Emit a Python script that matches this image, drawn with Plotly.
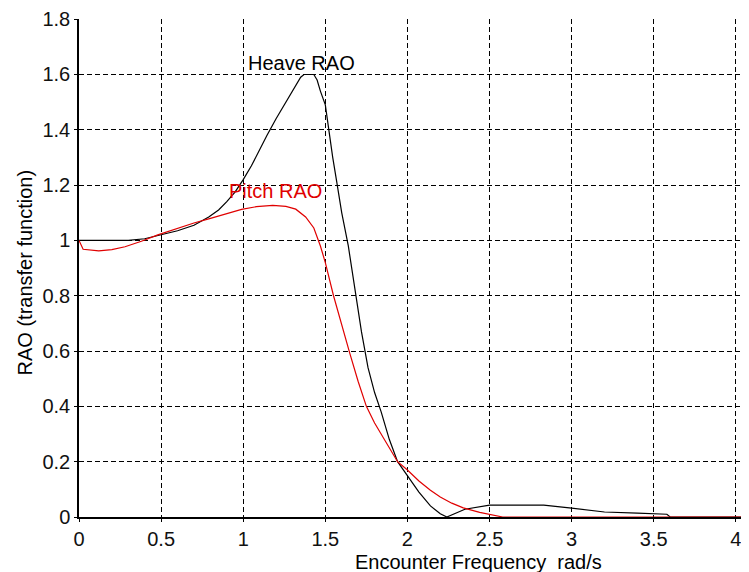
import plotly.graph_objects as go

# Encounter frequency (rad/s) and RAO values
heave_x = [0, 0.1, 0.2, 0.3, 0.4, 0.5, 0.6, 0.7, 0.79, 0.85, 0.9, 0.95, 1.0, 1.05,
           1.1, 1.145, 1.2, 1.27, 1.32, 1.35, 1.37, 1.43, 1.45, 1.47, 1.5, 1.52,
           1.545, 1.57, 1.6, 1.64, 1.68, 1.72, 1.76, 1.8, 1.84, 1.89, 1.94, 2.0,
           2.07, 2.14, 2.2, 2.24, 2.35, 2.5, 2.83, 3.0, 3.2, 3.4, 3.58, 3.6, 4.08]
heave_y = [1.0, 1.0, 1.0, 1.0, 1.006, 1.02, 1.035, 1.055, 1.085, 1.11, 1.14, 1.175,
           1.22, 1.27, 1.33, 1.38, 1.44, 1.51, 1.565, 1.59, 1.60, 1.60, 1.58, 1.54,
           1.49, 1.40, 1.30, 1.21, 1.10, 0.98, 0.82, 0.67, 0.54, 0.45, 0.38, 0.28,
           0.2, 0.15, 0.09, 0.04, 0.012, 0.0, 0.028, 0.043, 0.043, 0.032, 0.018,
           0.014, 0.01, 0.0, 0.0]

pitch_x = [0, 0.025, 0.12, 0.2, 0.28, 0.38, 0.48, 0.6, 0.7, 0.79, 0.9, 0.99, 1.08,
           1.18, 1.26, 1.32, 1.38, 1.43, 1.47, 1.5, 1.55, 1.6, 1.65, 1.7, 1.75, 1.8,
           1.85, 1.9, 1.94, 2.0, 2.07, 2.14, 2.2, 2.27, 2.34, 2.44, 2.54, 2.58, 4.08]
pitch_y = [1.0, 0.968, 0.962, 0.967, 0.977, 0.997, 1.02, 1.045, 1.063, 1.078, 1.098,
           1.112, 1.122, 1.127, 1.123, 1.113, 1.085, 1.045, 0.98, 0.92, 0.8, 0.69,
           0.59, 0.49, 0.4, 0.34, 0.29, 0.235, 0.2, 0.17, 0.13, 0.097, 0.072, 0.05,
           0.033, 0.017, 0.006, 0.0, 0.0]

x_ticks = [0, 0.5, 1, 1.5, 2, 2.5, 3, 3.5, 4]
x_tick_labels = ["0", "0.5", "1", "1.5", "2", "2.5", "3", "3.5", "4"]
y_ticks = [0, 0.2, 0.4, 0.6, 0.8, 1.0, 1.2, 1.4, 1.6, 1.8]
y_tick_labels = ["0", "0.2", "0.4", "0.6", "0.8", "1", "1.2", "1.4", "1.6", "1.8"]

FONT = "Liberation Sans, Arial, sans-serif"
FS = 20

fig = go.Figure()
fig.add_trace(go.Scatter(x=heave_x, y=heave_y, mode="lines",
                         line=dict(color="black", width=1.2), name="Heave RAO"))
fig.add_trace(go.Scatter(x=pitch_x, y=pitch_y, mode="lines",
                         line=dict(color="#e00000", width=1.2), name="Pitch RAO"))

fig.add_annotation(x=1.352, y=1.64, text="Heave RAO", showarrow=False,
                   font=dict(family=FONT, size=FS, color="black"))
fig.add_annotation(x=1.194, y=1.179, text="Pitch RAO", showarrow=False,
                   font=dict(family=FONT, size=FS, color="#e00000"))
fig.add_annotation(xref="paper", yref="paper", x=(478 - 79) / 670,
                   y=-(562 - 517) / 501, yanchor="middle",
                   text="Encounter Frequency  rad/s", showarrow=False,
                   font=dict(family=FONT, size=FS, color="black"))
fig.add_annotation(xref="paper", yref="paper", x=(25 - 79) / 670,
                   y=(517 - 271) / 501, textangle=-90, xanchor="center",
                   yanchor="middle", text="RAO (transfer function)", showarrow=False,
                   font=dict(family=FONT, size=FS, color="black"))

axis_common = dict(showgrid=True, gridcolor="black", griddash="5px,3px", gridwidth=1,
                   showline=True, linecolor="black", linewidth=1.5,
                   ticks="outside", ticklen=3, tickcolor="black", zeroline=False,
                   ticklabeloverflow="allow",
                   tickfont=dict(family=FONT, size=FS, color="#111"))

fig.update_layout(
    width=741, height=564,
    margin=dict(l=71, r=0, t=8, b=55),
    paper_bgcolor="white", plot_bgcolor="white",
    showlegend=False,
    font=dict(family=FONT, size=FS, color="black"),
    xaxis=dict(range=[0, 4.08], tickvals=x_ticks, ticktext=x_tick_labels, **axis_common),
    yaxis=dict(range=[0, 1.8006], tickvals=y_ticks, ticktext=y_tick_labels, **axis_common),
)

fig.write_html("out.html")
